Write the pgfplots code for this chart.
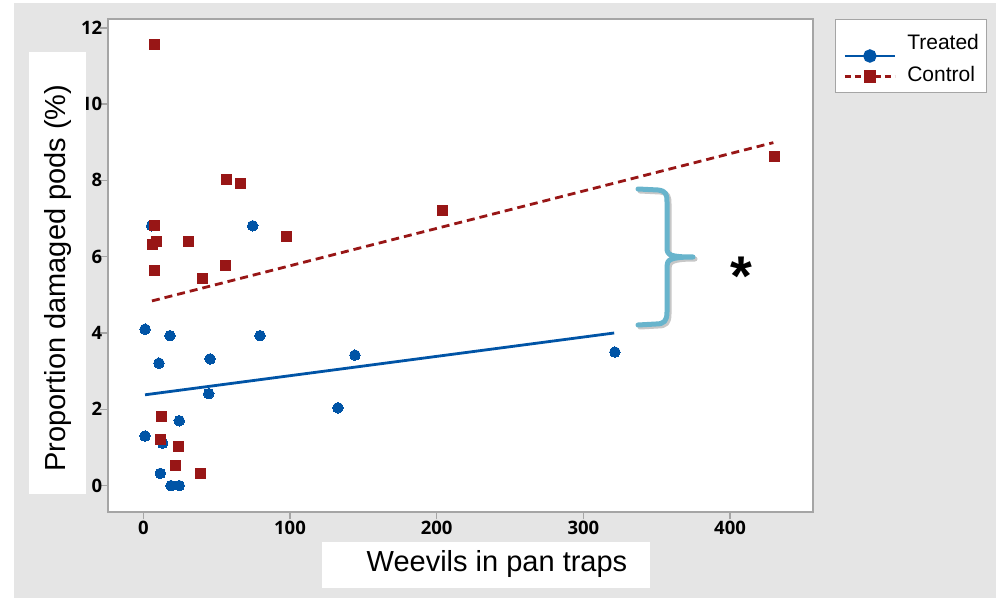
\documentclass[border=0pt]{standalone}
\usepackage{fontspec}
\setmainfont{Liberation Sans}
\newfontfamily\tickfont{Open Sans}
\usepackage{pgfplots}
\pgfplotsset{compat=1.18}
\definecolor{bggray}{RGB}{229,229,229}
\definecolor{framegray}{RGB}{165,165,165}
\definecolor{tblue}{RGB}{0,84,166}
\definecolor{cred}{RGB}{152,22,22}
\definecolor{bracecol}{RGB}{104,180,204}

\begin{document}
\begin{tikzpicture}[x=1pt,y=1pt]
\fill[white] (0,0) rectangle (996,598);
\fill[bggray] (14,0) rectangle (996,595);
\begin{axis}[
  at={(107.5pt,85.7pt)}, anchor=south west,
  scale only axis, width=705pt, height=493.3pt,
  xmin=-24.4, xmax=456.2, ymin=-0.70, ymax=12.23,
  axis background/.style={fill=white},
  axis line style={framegray, line width=2pt},
  xtick={0,100,200,300,400}, ytick={0,2,4,6,8,10,12},
  tick pos=left, tick align=outside, major tick length=7pt,
  tick style={framegray, line width=1.5pt},
  /pgf/number format/assume math mode=true,
  tick label style={font=\tickfont\bfseries\fontsize{18.5}{18.5}\selectfont, text=black},
  yticklabel style={inner sep=1pt, xshift=3pt},
  xticklabel style={inner sep=1.5pt},
  legend style={at={(1.0319,1)}, anchor=north west, draw=framegray, line width=1pt,
    fill=white, font=\fontsize{21}{21}\selectfont,
    inner xsep=8pt, inner ysep=10.5pt, row sep=1pt,
    nodes={inner sep=0pt, text height=19.5pt, text depth=0.5pt},
    /tikz/every odd column/.append style={column sep=11pt}},
  legend cell align=left,
  legend image code/.code={\path (0pt,-4pt) (50pt,4pt);\draw[overlay,mark repeat=2,mark phase=2,#1] plot coordinates {(0pt,0pt) (25pt,0pt) (50pt,0pt)};},
]
% Treated
\addplot[only marks, mark=*, mark size=5.3pt, mark options={fill=tblue, draw=tblue, line width=0pt}, forget plot] coordinates {
(1.2,4.10) (18.2,3.93) (79.6,3.93) (10.7,3.21) (45.5,3.32) (44.6,2.41)
(24.5,1.70) (1.2,1.30) (13.2,1.11) (11.6,0.32) (18.9,0) (24.5,0)
(74.6,6.81) (5.7,6.81) (144.3,3.42) (132.7,2.04) (321.5,3.50)
};
% Control
\addplot[only marks, mark=square*, mark size=5pt, mark options={fill=cred, draw=cred, line width=0pt}, forget plot] coordinates {
(7.3,11.55) (56.4,8.01) (66.6,7.93) (7.3,6.83) (9.3,6.41) (6.6,6.31)
(30.5,6.41) (97.3,6.54) (7.3,5.65) (55.7,5.76) (40.7,5.42) (204.3,7.22)
(430.6,8.63) (12.5,1.81) (11.4,1.22) (23.7,1.02) (22.1,0.52) (38.9,0.32)
};
% fitted lines
\addplot[tblue, line width=2.8pt, forget plot] coordinates {(1.2,2.38) (321,4.00)};
\addplot[cred, line width=2.8pt, dash pattern=on 8pt off 5pt, forget plot] coordinates {(5.9,4.84) (429.5,8.99)};
\addlegendimage{tblue, line width=2.8pt, mark=*, mark size=5.3pt, mark options={fill=tblue, draw=tblue, solid}, yshift=-16pt}
\addlegendentry{Treated}
\addlegendimage{cred, line width=2.8pt, dash pattern=on 6pt off 4pt, mark=square*, mark size=5pt, mark options={fill=cred, draw=cred, solid}, yshift=-4pt}
\addlegendentry{Control}
\end{axis}
% label boxes
\fill[white] (29,598-52) rectangle (86,598-494);
\node[rotate=90, font=\fontsize{29}{29}\selectfont, inner sep=0pt] at (58,598-278) {Proportion damaged pods (\%)};
\fill[white] (322,598-542) rectangle (650,598-588);
\node[font=\fontsize{29}{29}\selectfont, inner sep=0pt] at (497,598-564) {Weevils in pan traps};
% brace and star
\begin{scope}[shift={(0,598)}, yscale=-1]
\def\bracepath{(638,189) -- (658,190) .. controls (666,191) and (667,194) .. (667,202) -- (667,248) .. controls (667,255) and (670,257) .. (693,257) (693,257) .. controls (670,257) and (667,260) .. (667,266) -- (667,312) .. controls (667,321) and (664,324) .. (656,324) -- (638,325)}
\draw[black!22, line width=5pt, line cap=round, line join=round, shift={(2,2)}] \bracepath;
\draw[bracecol, line width=5pt, line cap=round, line join=round] \bracepath;
\end{scope}
\node[font=\bfseries\fontsize{56}{56}\selectfont, inner sep=0pt] at (741,598-276) {*};
\pgfresetboundingbox
\useasboundingbox (0,0) rectangle (996,598);
\end{tikzpicture}
\end{document}
